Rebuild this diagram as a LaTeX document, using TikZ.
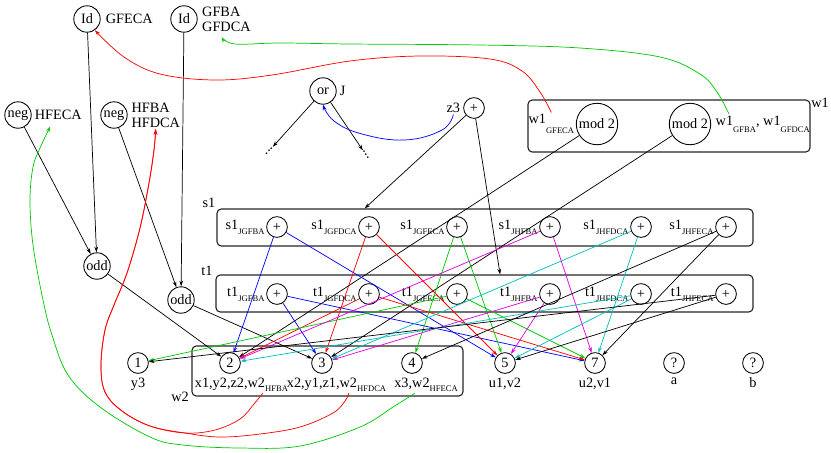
\documentclass[tikz,border=0pt]{standalone}
\usepackage{fontspec}
\setmainfont{Liberation Serif}
\usetikzlibrary{arrows.meta,positioning,calc,fit}
\definecolor{eblue}{HTML}{0000FF}
\definecolor{ered}{HTML}{FF0000}
\definecolor{egreen}{HTML}{00C800}
\definecolor{emag}{HTML}{E000E0}
\definecolor{ecyan}{HTML}{00C0C0}
\newcommand{\lsub}[2][3.5pt]{\raisebox{-#1}{\fontsize{6}{7}\selectfont #2}}
\tikzset{
  op/.style={circle, draw, line width=0.6pt, inner sep=0.5pt, minimum size=18.5pt},
  gate/.style={circle, draw, line width=0.6pt, inner sep=0.5pt, minimum size=14.5pt},
  modn/.style={op, minimum size=29pt},
  grp/.style={draw=black!85, line width=0.8pt, rounded corners=3pt, inner sep=0pt},
  lbl/.style={inner sep=1pt, align=left},
  ar/.style={-{Stealth[length=4pt,width=2.6pt]}, line width=0.5pt},
  dots/.style={inner sep=0pt},
}

\begin{document}
\begin{tikzpicture}[x=0.7pt, y=-0.7pt, font=\fontsize{10}{10.5}\selectfont]
\useasboundingbox (0,0) rectangle (831,452);

% groups
\node[grp, fit={(528,100) (810,152)}] (w1box) {};
\node[grp, fit={(217,209) (753,246)}] (s1box) {};
\node[grp, fit={(216,275) (753,312)}] (t1box) {};
\node[grp, fit={(192,346) (463,396)}] (w2box) {};
\node[lbl] (w1name) at (820,103) {w1};
\node[lbl] (s1name) at (209,203) {s1};
\node[lbl] (t1name) at (207,271) {t1};
\node[lbl] (w2name) at (180,397) {w2};

% inputs
\node[op] (idA) at (87,19) {Id};
\node[lbl, right=2.5pt of idA] (gfeca) {GFECA};
\node[op] (idB) at (184,19) {Id};
\node[lbl, right=2pt of idB] (gfba) {GFBA\\GFDCA};
\node[op] (negA) at (18,115) {neg};
\node[lbl, right=1pt of negA] (hfeca) {HFECA};
\node[op] (negB) at (114,115) {neg};
\node[lbl, right=1.5pt of negB] (hfba) {HFBA\\HFDCA};
\node[op] (oddA) at (97,266) {odd};
\node[op] (oddB) at (181,300) {odd};

\node[op] (orJ) at (323,91) {or};
\node[lbl, right=1pt of orJ] (jlbl) {J};
\node[dots, rotate=47] (dotsL) at (269,151) {...};
\node[dots, rotate=-57] (dotsR) at (366,155) {...};
\node[gate] (zthree) at (474,108) {+};
\node[lbl, left=1pt of zthree] (z3lbl) {z3};

\node[modn] (modA) at (597,124) {mod 2};
\node[lbl, left=0pt of modA] (wa) {w1\lsub[7pt]{GFECA}};
\node[modn] (modB) at (690,124) {mod 2};
\node[lbl, right=2pt of modB] (wb) {w1\lsub[5pt]{GFBA}, w1\lsub[5pt]{GFDCA}};

% s1 gates
\node[gate] (sgfba) at (277,227) {+};
\node[gate] (sgfdca) at (369,227) {+};
\node[gate] (sgfeca) at (457,227) {+};
\node[gate] (shfba) at (550,227) {+};
\node[gate] (shfdca) at (641,227) {+};
\node[gate] (shfeca) at (726,227) {+};
\node[lbl, left=0pt of sgfba] {s1\lsub{JGFBA}};
\node[lbl, left=0pt of sgfdca] {s1\lsub{JGFDCA}};
\node[lbl, left=0pt of sgfeca] {s1\lsub{JGFECA}};
\node[lbl, left=0pt of shfba] {s1\lsub{JHFBA}};
\node[lbl, left=0pt of shfdca] {s1\lsub{JHFDCA}};
\node[lbl, left=0pt of shfeca] {s1\lsub{JHFECA}};

% t1 gates
\node[gate] (tgfba) at (277,294) {+};
\node[gate] (tgfdca) at (369,294) {+};
\node[gate] (tgfeca) at (457,294) {+};
\node[gate] (thfba) at (550,294) {+};
\node[gate] (thfdca) at (641,294) {+};
\node[gate] (thfeca) at (726,294) {+};
\node[lbl, left=0pt of tgfba] {t1\lsub{JGFBA}};
\node[lbl, left=0pt of tgfdca] {t1\lsub{JGFDCA}};
\node[lbl, left=0pt of tgfeca] {t1\lsub{JGFECA}};
\node[lbl, left=0pt of thfba] {t1\lsub{JHFBA}};
\node[lbl, left=0pt of thfdca] {t1\lsub{JHFDCA}};
\node[lbl, left=0pt of thfeca] {t1\lsub{JHFECA}};

% outputs
\node[gate] (n1) at (138,363) {1};
\node[gate] (n2) at (230,363) {2};
\node[gate] (n3) at (322,363) {3};
\node[gate] (n4) at (412,363) {4};
\node[gate] (n5) at (505,363) {5};
\node[gate] (n7) at (595,363) {7};
\node[gate] (qa) at (674,363) {?};
\node[gate] (qb) at (753,363) {?};
\node[lbl, below=1.5pt of n1] (l1) {y3};
\node[lbl, below=1.5pt of n2] (l2) {x1,y2,z2,w2\rlap{\lsub[3pt]{HFBA}}};
\node[lbl, below=1.5pt of n3] (l3) {x2,y1,z1,w2\rlap{\lsub[3pt]{HFDCA}}};
\node[lbl, below=1.5pt of n4] (l4) {x3,w2\rlap{\lsub[3pt]{HFECA}}};
\node[lbl, below=1.5pt of n5] (l5) {u1,v2};
\node[lbl, below=1.5pt of n7] (l7) {u2,v1};
\node[lbl, below=1.5pt of qa] (la) {a};
\node[lbl, below=1.5pt of qb] (lb) {b};

\coordinate (s1in) at ($(s1box.north west)!0.276!(s1box.north east)$);
\coordinate (t1in) at ($(t1box.north west)!0.529!(t1box.north east)$);
\coordinate (gfin) at ($(gfba.south west)+(21,4)$);
\coordinate (hfin) at ($(hfeca.south)+(-8,5)$);

% black connectors
\draw[ar] (idA) -- (oddA);
\draw[ar] (negA) -- (oddA);
\draw[ar] (idB) -- (oddB);
\draw[ar] (negB) -- (oddB);
\draw[ar] (oddA) -- (n2);
\draw[ar] (oddB) -- (n3);
\draw[ar] (orJ) -- (dotsL);
\draw[ar] (orJ) -- (dotsR);
\draw[ar] (zthree) -- (s1in);
\draw[ar] (zthree) -- (t1in);
\draw[ar] (modA) -- (n2);
\draw[ar] (modB) -- (n3);

% gate outputs
\draw[ar, eblue] (sgfba) -- (n2);
\draw[ar, eblue] (sgfba) -- (n5);
\draw[ar, eblue] (tgfba) -- (n3);
\draw[ar, eblue] (tgfba) -- (n7);
\draw[ar, ered] (sgfdca) -- (n3);
\draw[ar, ered] (sgfdca) -- (n5);
\draw[ar, ered] (tgfdca) -- (n2);
\draw[ar, ered] (tgfdca) -- (n7);
\draw[ar, egreen] (sgfeca) -- (n4);
\draw[ar, egreen] (sgfeca) -- (n5);
\draw[ar, egreen] (tgfeca) -- (n1);
\draw[ar, egreen] (tgfeca) -- (n7);
\draw[ar, emag] (shfba) -- (n2);
\draw[ar, emag] (shfba) -- (n7);
\draw[ar, emag] (thfba) -- (n3);
\draw[ar, emag] (thfba) -- (n5);
\draw[ar, ecyan] (shfdca) -- (n3);
\draw[ar, ecyan] (shfdca) -- (n7);
\draw[ar, ecyan] (thfdca) -- (n2);
\draw[ar, ecyan] (thfdca) -- (n5);
\draw[ar] (shfeca) -- (n4);
\draw[ar] (shfeca) -- (n7);
\draw[ar] (thfeca) -- (n1);
\draw[ar] (thfeca) -- (n5);

% feedback curves
\draw[ar, ered] plot[smooth, tension=0.6] coordinates {(wa.north) (540,92) (522,71)
  (490,59) (420,56) (350,61) (272,75) (215,80) (160,74) (124,57) (idA.-55)};
\draw[ar, egreen] plot[smooth, tension=0.6] coordinates {($(wb.north west)+(15,0)$)
  (717,92) (700,74) (660,57) (580,48) (480,45) (350,44) (280,43) (235,44) (gfin)};
\draw[ar, eblue] plot[smooth, tension=0.7] coordinates {(z3lbl.south) (442,130)
  (405,140) (362,134) (334,121) (orJ.south)};
\draw[ar, ered] plot[smooth, tension=0.6] coordinates {($(l2.south east)+(-4,0)$)
  (254,404) (240,419) (215,430) (185,433) (150,426) (122,411) (105,392) (101,365)
  (105,330) (114,305) (127,273) (140,228) (149,183) (154,150) (hfba.south)};
\draw[ar, ered] plot[smooth, tension=0.6] coordinates {($(l3.south east)+(-10,0)$)
  (345,401) (333,413) (300,427) (260,434) (220,437) (185,433) (150,426) (122,411)
  (105,392) (101,365) (105,330) (114,305) (127,273) (140,228) (149,183) (154,150)
  (hfba.south)};
\draw[ar, egreen] plot[smooth, tension=0.6] coordinates {($(l4.south)+(3,0)$)
  (393,407) (360,427) (300,446) (240,448) (183,445) (150,437) (100,407) (68,375)
  (52,335) (43,300) (33,245) (30,200) (33,167) (40,148) (hfin)};
\end{tikzpicture}
\end{document}
